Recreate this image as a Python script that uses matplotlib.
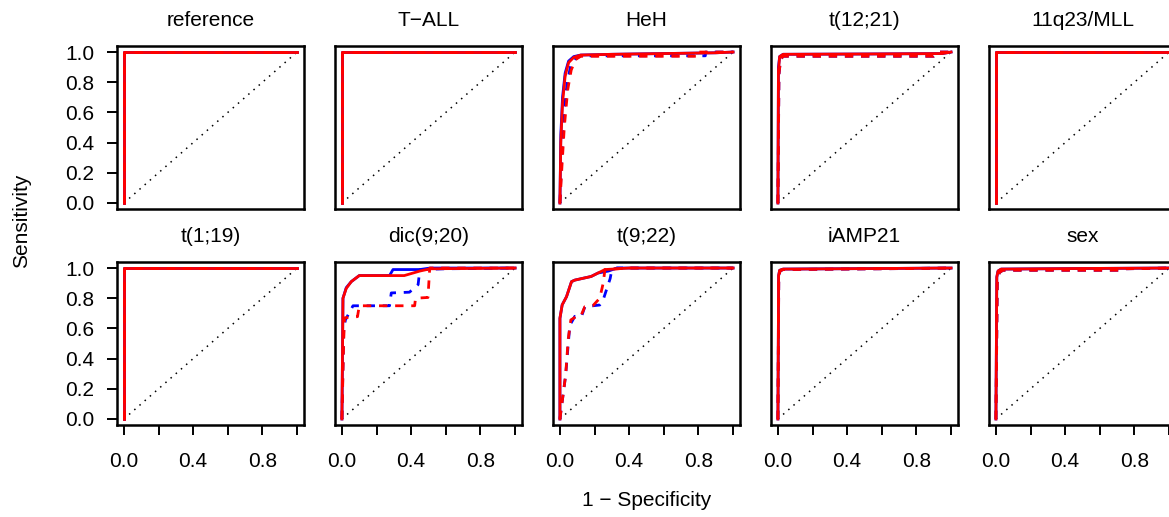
import matplotlib
matplotlib.use("Agg")
import matplotlib.pyplot as plt

plt.rcParams["font.family"] = ["Liberation Sans", "DejaVu Sans"]

# -------------------------
# Daten (ROC-Kurven: x = 1 - Specificity, y = Sensitivity)
# -------------------------

titles = ["reference", "T\u2212ALL", "HeH", "t(12;21)", "11q23/MLL",
          "t(1;19)", "dic(9;20)", "t(9;22)", "iAMP21", "sex"]

perfect_x = [0, 0, 1]
perfect_y = [0, 1, 1]

heh_solid_blue_x = [0, 0.005, 0.015, 0.03, 0.05, 0.08, 0.12, 0.3, 0.6, 0.9, 1.0]
heh_solid_blue_y = [0, 0.45, 0.70, 0.86, 0.94, 0.97, 0.98, 0.985, 0.99, 0.995, 1.0]
heh_solid_red_x = [0, 0.005, 0.015, 0.03, 0.05, 0.08, 0.12, 0.3, 0.6, 0.9, 1.0]
heh_solid_red_y = [0, 0.40, 0.66, 0.84, 0.93, 0.965, 0.98, 0.985, 0.99, 0.995, 1.0]
heh_dash_blue_x = [0, 0.01, 0.02, 0.04, 0.06, 0.09, 0.12, 0.84, 0.84, 1.0]
heh_dash_blue_y = [0, 0.30, 0.55, 0.78, 0.90, 0.955, 0.975, 0.975, 1.0, 1.0]
heh_dash_red_x = [0, 0.012, 0.025, 0.045, 0.065, 0.09, 0.12, 0.80, 0.80, 1.0]
heh_dash_red_y = [0, 0.25, 0.50, 0.75, 0.88, 0.95, 0.972, 0.972, 1.0, 1.0]

t1221_solid_blue_x = [0, 0.003, 0.01, 0.03, 0.5, 0.95, 1.0]
t1221_solid_blue_y = [0, 0.90, 0.97, 0.985, 0.987, 0.99, 1.0]
t1221_solid_red_x = [0, 0.003, 0.01, 0.03, 0.5, 0.95, 1.0]
t1221_solid_red_y = [0, 0.88, 0.97, 0.985, 0.987, 0.99, 1.0]
t1221_dash_blue_x = [0, 0.006, 0.015, 0.03, 0.90, 0.93, 1.0]
t1221_dash_blue_y = [0, 0.85, 0.95, 0.972, 0.972, 1.0, 1.0]
t1221_dash_red_x = [0, 0.006, 0.015, 0.03, 0.90, 0.93, 1.0]
t1221_dash_red_y = [0, 0.85, 0.95, 0.972, 0.972, 1.0, 1.0]

dic_solid_blue_x = [0, 0.006, 0.025, 0.054, 0.10, 0.275, 0.295, 0.45, 0.51, 1.0]
dic_solid_blue_y = [0, 0.80, 0.87, 0.91, 0.95, 0.95, 0.99, 0.99, 1.0, 1.0]
dic_solid_red_x = [0, 0.006, 0.025, 0.054, 0.10, 0.36, 0.45, 0.51, 1.0]
dic_solid_red_y = [0, 0.80, 0.865, 0.91, 0.95, 0.95, 0.98, 0.995, 1.0]
dic_dash_blue_x = [0, 0.01, 0.02, 0.064, 0.275, 0.285, 0.39, 0.44, 0.45, 0.6, 1.0]
dic_dash_blue_y = [0, 0.58, 0.656, 0.75, 0.75, 0.835, 0.84, 0.89, 0.99, 0.995, 1.0]
dic_dash_red_x = [0, 0.01, 0.015, 0.09, 0.10, 0.42, 0.425, 0.497, 0.507, 1.0]
dic_dash_red_y = [0, 0.51, 0.67, 0.678, 0.75, 0.75, 0.80, 0.805, 1.0, 1.0]

t922_solid_blue_x = [0, 0, 0.013, 0.038, 0.067, 0.086, 0.125, 0.18, 0.22, 0.28, 0.33, 1.0]
t922_solid_blue_y = [0, 0.667, 0.756, 0.81, 0.91, 0.92, 0.93, 0.944, 0.967, 0.98, 1.0, 1.0]
t922_solid_red_x = [0, 0, 0.013, 0.038, 0.067, 0.086, 0.125, 0.18, 0.22, 0.26, 0.40, 1.0]
t922_solid_red_y = [0, 0.667, 0.756, 0.81, 0.91, 0.92, 0.93, 0.944, 0.967, 0.99, 1.0, 1.0]
t922_dash_blue_x = [0, 0.033, 0.057, 0.086, 0.125, 0.144, 0.23, 0.25, 0.29, 0.30, 0.33, 1.0]
t922_dash_blue_y = [0, 0.29, 0.62, 0.68, 0.68, 0.744, 0.755, 0.79, 0.93, 0.99, 1.0, 1.0]
t922_dash_red_x = [0, 0.033, 0.048, 0.063, 0.096, 0.12, 0.144, 0.19, 0.23, 0.25, 0.26, 0.40, 1.0]
t922_dash_red_y = [0, 0.29, 0.53, 0.656, 0.68, 0.68, 0.744, 0.75, 0.80, 0.90, 0.99, 1.0, 1.0]

iamp_solid_blue_x = [0, 0.004, 0.01, 0.03, 0.6, 1.0]
iamp_solid_blue_y = [0, 0.95, 0.985, 0.993, 0.997, 1.0]
iamp_solid_red_x = [0, 0.004, 0.01, 0.03, 0.6, 1.0]
iamp_solid_red_y = [0, 0.95, 0.985, 0.993, 0.997, 1.0]
iamp_dash_blue_x = [0, 0.005, 0.012, 0.03, 0.6, 1.0]
iamp_dash_blue_y = [0, 0.94, 0.98, 0.99, 0.995, 1.0]
iamp_dash_red_x = [0, 0.005, 0.012, 0.03, 0.6, 1.0]
iamp_dash_red_y = [0, 0.94, 0.98, 0.99, 0.995, 1.0]

sex_solid_blue_x = [0, 0.005, 0.012, 0.03, 0.5, 1.0]
sex_solid_blue_y = [0, 0.94, 0.98, 0.993, 0.997, 1.0]
sex_solid_red_x = [0, 0.005, 0.012, 0.03, 0.5, 1.0]
sex_solid_red_y = [0, 0.94, 0.98, 0.993, 0.997, 1.0]
sex_dash_blue_x = [0, 0.008, 0.02, 0.04, 0.73, 0.75, 1.0]
sex_dash_blue_y = [0, 0.90, 0.97, 0.985, 0.985, 0.995, 1.0]
sex_dash_red_x = [0, 0.008, 0.02, 0.04, 0.73, 0.75, 1.0]
sex_dash_red_y = [0, 0.90, 0.97, 0.985, 0.985, 0.995, 1.0]

perfect = [(perfect_x, perfect_y)] * 4
curves = [
    perfect,
    perfect,
    [(heh_solid_blue_x, heh_solid_blue_y), (heh_solid_red_x, heh_solid_red_y),
     (heh_dash_blue_x, heh_dash_blue_y), (heh_dash_red_x, heh_dash_red_y)],
    [(t1221_solid_blue_x, t1221_solid_blue_y), (t1221_solid_red_x, t1221_solid_red_y),
     (t1221_dash_blue_x, t1221_dash_blue_y), (t1221_dash_red_x, t1221_dash_red_y)],
    perfect,
    perfect,
    [(dic_solid_blue_x, dic_solid_blue_y), (dic_solid_red_x, dic_solid_red_y),
     (dic_dash_blue_x, dic_dash_blue_y), (dic_dash_red_x, dic_dash_red_y)],
    [(t922_solid_blue_x, t922_solid_blue_y), (t922_solid_red_x, t922_solid_red_y),
     (t922_dash_blue_x, t922_dash_blue_y), (t922_dash_red_x, t922_dash_red_y)],
    [(iamp_solid_blue_x, iamp_solid_blue_y), (iamp_solid_red_x, iamp_solid_red_y),
     (iamp_dash_blue_x, iamp_dash_blue_y), (iamp_dash_red_x, iamp_dash_red_y)],
    [(sex_solid_blue_x, sex_solid_blue_y), (sex_solid_red_x, sex_solid_red_y),
     (sex_dash_blue_x, sex_dash_blue_y), (sex_dash_red_x, sex_dash_red_y)],
]

# Stil: blau/rot, durchgezogen/gestrichelt
styles = [
    dict(color="#0000FF", linestyle="-"),
    dict(color="#FF0000", linestyle="-"),
    dict(color="#0000FF", linestyle=(0, (3, 2.8))),
    dict(color="#FF0000", linestyle=(0, (3, 2.8))),
]
draw_order = [0, 2, 3, 1]  # rot durchgezogen zuletzt

# -------------------------
# Layout (Pixel -> Figurkoordinaten)
# -------------------------

W, H = 1169, 517
fig = plt.figure(figsize=(W / 100, H / 100), dpi=100, facecolor="white")

box_w, box_h = 187, 163
lefts = [117 + 218 * i for i in range(5)]
tops = [46, 262]

for k, title in enumerate(titles):
    row, col = divmod(k, 5)
    l = lefts[col]
    t = tops[row]
    ax = fig.add_axes([l / W, 1 - (t + box_h) / H, box_w / W, box_h / H])

    ax.plot([0, 1], [0, 1], color="black", linestyle=(0, (1, 3.5)), linewidth=1.1)
    for j in draw_order:
        xs, ys = curves[k][j]
        ax.plot(xs, ys, linewidth=2.0, **styles[j])

    ax.set_xlim(-0.04, 1.04)
    ax.set_ylim(-0.04, 1.04)

    for sp in ax.spines.values():
        sp.set_linewidth(1.8)

    if col == 0:
        ax.set_yticks([0, 0.2, 0.4, 0.6, 0.8, 1.0])
        ax.set_yticklabels(["0.0", "0.2", "0.4", "0.6", "0.8", "1.0"])
    else:
        ax.set_yticks([])
    if row == 1:
        ax.set_xticks([0, 0.2, 0.4, 0.6, 0.8, 1.0])
        ax.set_xticklabels(["0.0", "", "0.4", "", "0.8", ""])
    else:
        ax.set_xticks([])
    ax.tick_params(direction="out", length=7.5, width=1.4, labelsize=15)
    ax.tick_params(axis="y", pad=9)
    ax.tick_params(axis="x", pad=12)

    ax.annotate(title, xy=(0.5, 1), xycoords="axes fraction",
                xytext=(0, 18), textcoords="offset points",
                ha="center", va="center", fontsize=15)

fig.text(22 / W, 1 - 221 / H, "Sensitivity", rotation=90,
         ha="center", va="center", fontsize=15)
fig.text(647 / W, 1 - 500 / H, "1 \u2212 Specificity",
         ha="center", va="center", fontsize=15)

plt.savefig("out.png", dpi=100)
